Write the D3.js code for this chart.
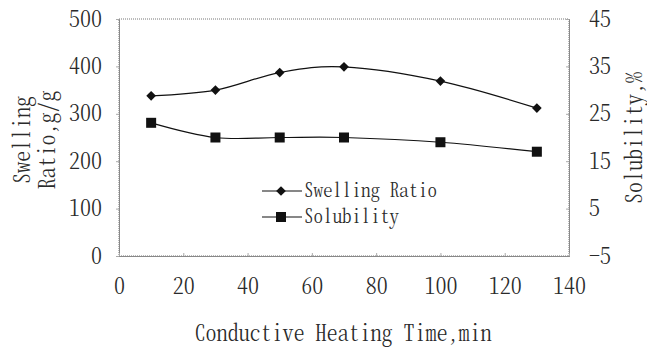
<!DOCTYPE html>
<html><head><meta charset="utf-8">
<script src="https://cdn.jsdelivr.net/npm/d3@7"></script>
<style>body{margin:0;background:#fff}svg{display:block}
.num{font-family:"Noto Serif CJK SC","Liberation Serif",serif;font-size:22px;font-weight:300;font-feature-settings:"hwid";fill:#2a2a2a}
.lbl{font-family:"Noto Serif CJK SC","Liberation Serif",serif;font-weight:300;font-feature-settings:"hwid";fill:#2a2a2a}
</style>
</head><body>
<script>
const times = [10, 30, 50, 70, 100, 130];
const swelling = [338, 350, 387, 399, 369, 312];
const solubility = [23.1, 20, 20, 20, 19, 17];
const xTicks = [0, 20, 40, 60, 80, 100, 120, 140];
const yLeftTicks = [0, 100, 200, 300, 400, 500];
const yRightTicks = [-5, 5, 15, 25, 35, 45];

const W = 647, H = 347;
const m = {l: 119, r: 569, t: 19, b: 256};
const svg = d3.select("body").append("svg").attr("width", W).attr("height", H);
const x = d3.scaleLinear().domain([0, 140]).range([m.l, m.r]);
const yL = d3.scaleLinear().domain([0, 500]).range([m.b, m.t]);
const yR = d3.scaleLinear().domain([-5, 45]).range([m.b, m.t]);

// plot frame
svg.append("rect").attr("x", m.l).attr("y", m.t).attr("width", m.r - m.l).attr("height", m.b - m.t)
  .attr("fill", "none").attr("stroke", "#777").attr("stroke-width", 1).attr("stroke-dasharray", "1,1");

// axes
const fmt = d => d < 0 ? "-" + Math.abs(d) : String(d);
const axL = d3.axisLeft(yL).tickValues(yLeftTicks).tickSize(3).tickPadding(14).tickFormat(fmt);
const axR = d3.axisRight(yR).tickValues(yRightTicks).tickSize(-3).tickPadding(20).tickFormat(fmt);
const axB = d3.axisBottom(x).tickValues(xTicks).tickSize(-3).tickPadding(22).tickFormat(fmt);
function style(g){
  g.attr("font-family", null).attr("font-size", null);
  g.select(".domain").attr("stroke", "#888").attr("stroke-width", 1);
  g.selectAll(".tick line").attr("stroke", "#aaa");
  g.selectAll(".tick text").attr("class", "num").attr("fill", null);
}
svg.append("g").attr("transform", `translate(${m.l},0)`).call(axL).call(style);
svg.append("g").attr("transform", `translate(${m.r},0)`).call(axR).call(style);
svg.append("g").attr("transform", `translate(0,${m.b})`).call(axB).call(style);

// lines
const curve = d3.curveCardinal.tension(0);
const sw = times.map((t, i) => [t, swelling[i]]);
const so = times.map((t, i) => [t, solubility[i]]);
svg.append("path").datum(sw).attr("fill", "none").attr("stroke", "#111").attr("stroke-width", 1.2)
  .attr("d", d3.line().x(d => x(d[0])).y(d => yL(d[1])).curve(curve));
svg.append("path").datum(so).attr("fill", "none").attr("stroke", "#111").attr("stroke-width", 1.2)
  .attr("d", d3.line().x(d => x(d[0])).y(d => yR(d[1])).curve(curve));

const diamond = d3.symbol().type(d3.symbolDiamond2).size(60);
svg.selectAll(".dm").data(sw).enter().append("path")
  .attr("transform", d => `translate(${x(d[0])},${yL(d[1])})`)
  .attr("d", diamond).attr("fill", "#111");
svg.selectAll(".sq").data(so).enter().append("rect")
  .attr("x", d => x(d[0]) - 5).attr("y", d => yR(d[1]) - 5)
  .attr("width", 10).attr("height", 10).attr("fill", "#111");

// legend
const lg = svg.append("g");
const legend = [{name: "Swelling Ratio", y: 191, type: "d"}, {name: "Solubility", y: 217, type: "s"}];
legend.forEach(e => {
  lg.append("line").attr("x1", 262).attr("x2", 302).attr("y1", e.y).attr("y2", e.y).attr("stroke", "#111").attr("stroke-width", 1.2);
  if (e.type === "d") lg.append("path").attr("transform", `translate(281,${e.y})`).attr("d", diamond).attr("fill", "#111");
  else lg.append("rect").attr("x", 276).attr("y", e.y - 5).attr("width", 10).attr("height", 10).attr("fill", "#111");
  lg.append("text").attr("class", "lbl").attr("x", 304).attr("y", e.y + 6).style("font-size", "19px").text(e.name);
});

// axis titles
svg.append("text").attr("class", "lbl").attr("x", 343).attr("y", 341).attr("text-anchor", "middle")
  .style("font-size", "22px").text("Conductive Heating Time,min");
const lt = svg.append("text").attr("class", "lbl").attr("transform", "translate(0,140) rotate(-90)").attr("text-anchor", "middle")
  .style("font-size", "22px");
lt.append("tspan").attr("x", 0).attr("y", 30).text("Swelling");
lt.append("tspan").attr("x", 0).attr("y", 55).text("Ratio,g/g");
svg.append("text").attr("class", "lbl").attr("transform", "translate(642,138) rotate(-90)").attr("text-anchor", "middle")
  .style("font-size", "22px").text("Solubility,%");
</script>
</body></html>
